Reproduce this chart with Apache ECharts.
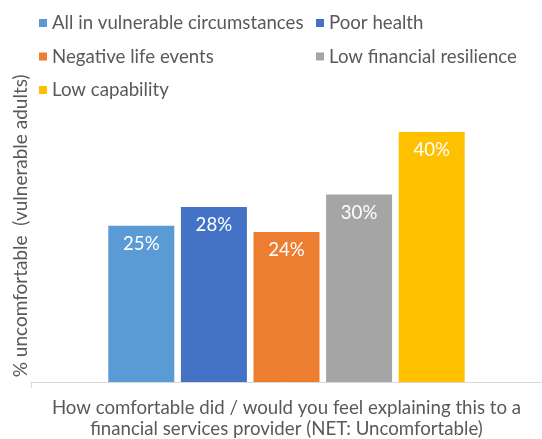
<!DOCTYPE html>
<html>
<head>
<meta charset="utf-8">
<script src="https://cdn.jsdelivr.net/npm/echarts@6/dist/echarts.min.js"></script>
<style>
  html, body { margin: 0; padding: 0; background: #ffffff; }
  #chart { width: 542px; height: 439px; }
</style>
</head>
<body>
<div id="chart"></div>
<script>
// Share of vulnerable adults who were / would be uncomfortable explaining their situation
const categories = ['How comfortable did / would you feel explaining this to a\nfinancial services provider (NET: Uncomfortable)'];
const seriesNames = ['All in vulnerable circumstances', 'Poor health', 'Negative life events', 'Low financial resilience', 'Low capability'];
const allVulnerable = [25];
const poorHealth = [28];
const negativeLifeEvents = [24];
const lowFinancialResilience = [30];
const lowCapability = [40];
const colors = ['#5B9BD5', '#4472C4', '#ED7D31', '#A5A5A5', '#FFC000'];

const values = [allVulnerable, poorHealth, negativeLifeEvents, lowFinancialResilience, lowCapability];
const FONT = 'Lato';
const GREY = '#595959';
const FS = 18.67;

const chart = echarts.init(document.getElementById('chart'), null, { renderer: 'canvas' });

const legendBase = {
  orient: 'vertical',
  top: 13,
  padding: 0,
  itemWidth: 8,
  itemHeight: 8,
  itemGap: 13.5,
  icon: 'rect',
  textStyle: { fontFamily: FONT, fontSize: FS, color: GREY, lineHeight: 20 },
  selectedMode: false
};

chart.setOption({
  animation: false,
  color: colors,
  legend: [
    Object.assign({}, legendBase, { left: 39, data: [seriesNames[0], seriesNames[2], seriesNames[4]] }),
    Object.assign({}, legendBase, { left: 316, data: [seriesNames[1], seriesNames[3]] })
  ],
  grid: { left: 31, width: 517, top: 100.7, bottom: 55.7, containLabel: false },
  xAxis: {
    type: 'category',
    data: categories,
    axisLine: { lineStyle: { color: '#D9D9D9', width: 1 } },
    axisTick: { show: true, length: 6, lineStyle: { color: '#D9D9D9' } },
    axisLabel: {
      fontFamily: FONT, fontSize: FS, color: GREY, lineHeight: 21,
      margin: 15
    }
  },
  yAxis: {
    type: 'value',
    min: 0,
    max: 45,
    show: true,
    axisLine: { show: false },
    axisTick: { show: false },
    axisLabel: { show: false },
    splitLine: { show: false },
    name: '% uncomfortable  (vulnerable adults)',
    nameLocation: 'middle',
    nameRotate: 90,
    nameGap: 1,
    nameTextStyle: { fontFamily: FONT, fontSize: 19, color: GREY, padding: [0, 0, 0, 31] }
  },
  series: seriesNames.map((name, i) => ({
    name: name,
    type: 'bar',
    data: values[i],
    barWidth: 66,
    barGap: '10%',
    itemStyle: { color: colors[i] },
    label: {
      show: true,
      position: 'insideTop',
      distance: 9,
      formatter: p => p.value + '%',
      fontFamily: FONT,
      fontSize: FS,
      color: '#FFFFFF'
    }
  }))
});
</script>
</body>
</html>
